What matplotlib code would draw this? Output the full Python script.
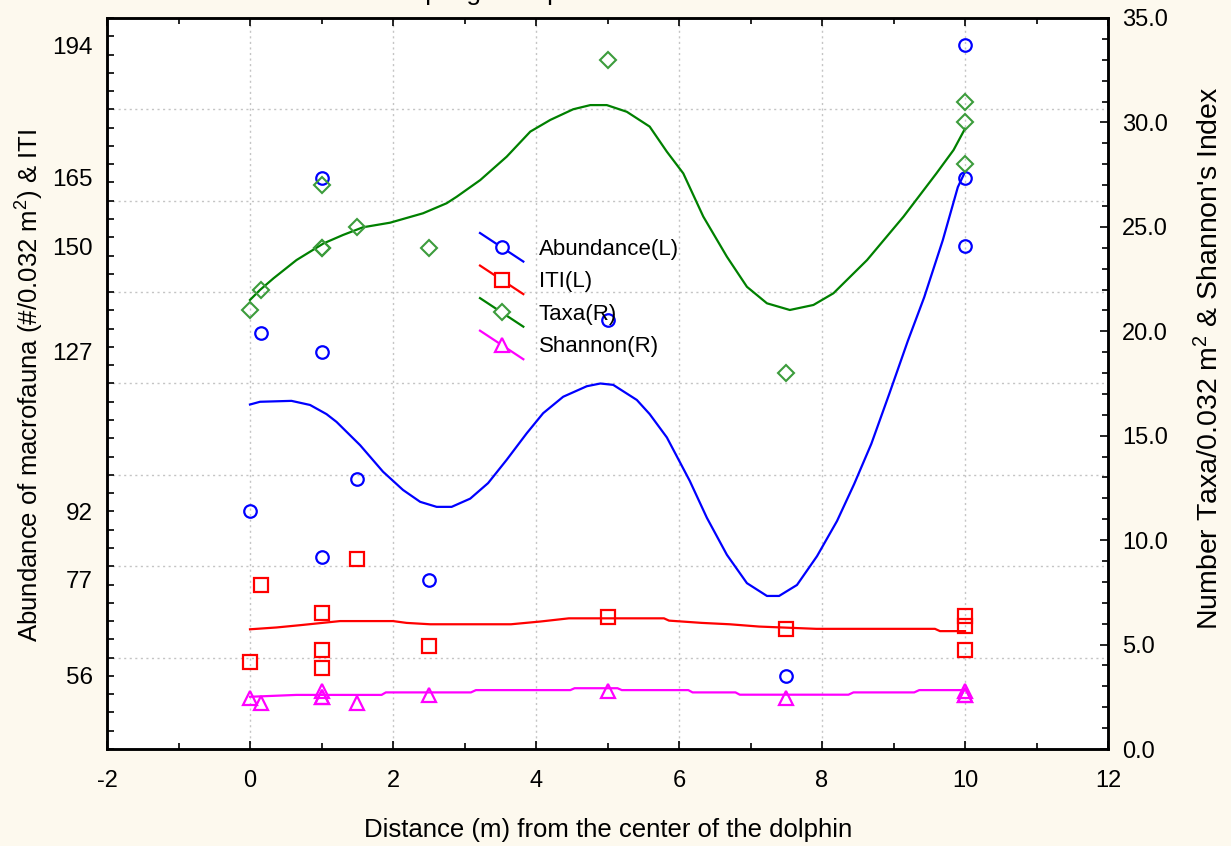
import matplotlib
matplotlib.use('Agg')
import matplotlib.pyplot as plt
import numpy as np
from matplotlib.lines import Line2D
from matplotlib.legend_handler import HandlerLine2D
from matplotlib.ticker import MultipleLocator, FormatStrFormatter

plt.rcParams['font.family'] = ['Liberation Sans', 'DejaVu Sans']
plt.rcParams['mathtext.fontset'] = 'custom'
plt.rcParams['mathtext.rm'] = 'Liberation Sans'
plt.rcParams['mathtext.it'] = 'Liberation Sans:italic'
plt.rcParams['axes.unicode_minus'] = False

# ---------------- data ----------------
sample_x = [0, 0.15, 1, 1, 1, 1.5, 2.5, 5, 7.5, 10, 10, 10]
abundance = [92, 131, 165, 127, 82, 99, 77, 134, 56, 194, 165, 150]
iti = [59, 76, 69.7, 61.7, 57.7, 81.6, 62.5, 68.8, 66.2, 69.1, 66.9, 61.7]
taxa = [21, 22, 27, 24, 24, 25, 24, 33, 18, 31, 30, 28]
shannon = [2.45, 2.2, 2.8, 2.5, 2.5, 2.2, 2.6, 2.8, 2.45, 2.8, 2.6, 2.6]

abund_curve_x = [0.0, 0.14, 0.58, 0.84, 1.07, 1.21, 1.54, 1.86, 2.14, 2.38, 2.61, 2.82,
                 3.08, 3.33, 3.59, 3.87, 4.10, 4.38, 4.71, 4.90, 5.08, 5.41, 5.59, 5.83,
                 6.15, 6.39, 6.67, 6.95, 7.23, 7.40, 7.65, 7.93, 8.21, 8.45, 8.69, 8.94,
                 9.20, 9.43, 9.69, 9.90, 10.0]
abund_curve_y = [115.4, 116.0, 116.2, 115.3, 113.3, 111.6, 106.5, 100.7, 96.7, 94.1, 93.0, 93.0,
                 94.8, 98.2, 103.3, 109.1, 113.5, 117.1, 119.4, 120.0, 119.7, 116.4, 113.3, 108.2,
                 98.7, 90.6, 82.5, 76.3, 73.5, 73.5, 75.9, 82.2, 89.9, 98.0, 106.8, 117.7,
                 129.3, 138.9, 151.4, 163.0, 166.3]

iti_curve_x = [0, 0.37, 0.70, 1.26, 2.0, 2.19, 2.52, 3.65, 4.06, 4.46, 5.79, 5.86,
               6.32, 6.71, 7.12, 7.92, 9.58, 9.65, 10.0]
iti_curve_y = [66.2, 66.6, 67.1, 68.0, 68.0, 67.6, 67.3, 67.3, 67.9, 68.6, 68.6, 68.1,
               67.6, 67.3, 66.8, 66.3, 66.3, 65.8, 65.8]

taxa_curve_x = [0.0, 0.14, 0.33, 0.65, 1.03, 1.30, 1.58, 1.96, 2.42, 2.75, 2.89, 3.22,
                3.59, 3.92, 4.20, 4.52, 4.76, 4.99, 5.27, 5.59, 5.83, 6.06, 6.34, 6.67,
                6.95, 7.23, 7.55, 7.88, 8.16, 8.63, 9.14, 9.60, 9.84, 10.0]
taxa_curve_y = [21.5, 21.98, 22.54, 23.41, 24.21, 24.61, 24.98, 25.20, 25.65, 26.13, 26.44, 27.24,
                28.36, 29.56, 30.12, 30.63, 30.83, 30.83, 30.51, 29.80, 28.60, 27.56, 25.49, 23.57,
                22.13, 21.34, 21.02, 21.26, 21.82, 23.41, 25.49, 27.56, 28.68, 29.7]

shannon_curve_x = [0.0, 0.65, 1.84, 1.90, 3.09, 3.16, 4.48, 4.54, 5.14, 5.20, 6.13, 6.19,
                   6.79, 6.85, 8.37, 8.44, 9.29, 9.36, 10.0]
shannon_curve_y = [2.50, 2.59, 2.59, 2.71, 2.71, 2.82, 2.82, 2.91, 2.91, 2.82, 2.82, 2.71,
                   2.71, 2.60, 2.60, 2.71, 2.71, 2.82, 2.82]

left_tick_values = [56, 77, 92, 127, 150, 165, 194]
left_grid_values = [60, 80, 100, 120, 140, 160, 180]
series_labels = ['Abundance(L)', 'ITI(L)', 'Taxa(R)', 'Shannon(R)']

# ---------------- styles ----------------
BG = '#fdf9ee'
BLUE = '#0000ff'
RED = '#ff0000'
GREEN = '#008000'
GREEN_MK = '#3c9c3c'
MAGENTA = '#ff00ff'
GRID = '#c4c4c4'

fig = plt.figure(figsize=(12.31, 8.46), dpi=100, facecolor=BG)
ax = fig.add_axes([107 / 1231, 1 - 749 / 846, 1001 / 1231, 731 / 846])
ax.set_facecolor('white')
ax2 = ax.twinx()

# left axis series
ax.plot(abund_curve_x, abund_curve_y, color=BLUE, lw=1.6, zorder=3)
ax.plot(iti_curve_x, iti_curve_y, color=RED, lw=1.6, zorder=3)
ax.plot(sample_x, abundance, ls='none', marker='o', ms=9, mew=1.6, mec=BLUE, mfc='none', zorder=4)
ax.plot(sample_x, iti, ls='none', marker='s', ms=10, mew=1.6, mec=RED, mfc='none', zorder=4)

# right axis series
ax2.plot(taxa_curve_x, taxa_curve_y, color=GREEN, lw=1.6, zorder=3)
ax2.plot(shannon_curve_x, shannon_curve_y, color=MAGENTA, lw=1.6, zorder=3)
ax2.plot(sample_x, taxa, ls='none', marker='D', ms=8.5, mew=1.5, mec=GREEN_MK, mfc='none', zorder=4)
ax2.plot(sample_x, shannon, ls='none', marker='^', ms=9.5, mew=1.6, mec=MAGENTA, mfc='none', zorder=4)

# axes limits and ticks
ax.set_xlim(-2, 12)
ax.set_ylim(40, 200)
ax2.set_ylim(0, 35)

ax.xaxis.set_major_locator(MultipleLocator(2))
ax.xaxis.set_minor_locator(MultipleLocator(1))
ax.tick_params(axis='x', which='both', direction='in', top=True, bottom=True,
               labelsize=17, pad=15)
ax.tick_params(axis='x', which='major', length=6, width=1.2)
ax.tick_params(axis='x', which='minor', length=4, width=1.2)

ax.yaxis.remove_overlapping_locs = False
ax.set_yticks(left_tick_values)
ax.set_yticklabels([str(v) for v in left_tick_values])
ax.yaxis.set_minor_locator(MultipleLocator(4))
ax.tick_params(axis='y', which='major', length=0, labelsize=17.5, pad=10, right=False)
ax.tick_params(axis='y', which='minor', direction='in', length=5, width=1.2, right=False)

ax2.yaxis.set_major_locator(MultipleLocator(5))
ax2.yaxis.set_minor_locator(MultipleLocator(1))
ax2.yaxis.set_major_formatter(FormatStrFormatter('%.1f'))
ax2.tick_params(axis='y', which='both', direction='in', labelsize=17, pad=10, left=False)
ax2.tick_params(axis='y', which='major', length=6, width=1.2)
ax2.tick_params(axis='y', which='minor', length=4, width=1.2)

# grid
ax.grid(axis='x', which='major', color=GRID, ls=(0, (1.5, 2.5)), lw=1.0)
for gv in left_grid_values:
    ax.axhline(gv, color=GRID, ls=(0, (1.5, 2.5)), lw=1.0, zorder=1)

for a in (ax, ax2):
    for sp in a.spines.values():
        sp.set_linewidth(1.8)
        sp.set_color('black')

# labels
ax.set_xlabel('Distance (m) from the center of the dolphin', fontsize=18.5)
ax.xaxis.set_label_coords(0.5005, -0.111)
ax.xaxis.label.set_va('center')

ax.set_ylabel('Abundance of macrofauna (#/0.032 m$^{2}$) & ITI', fontsize=18.5)
ax.yaxis.set_label_coords(-0.077, 0.497)
ax.yaxis.label.set_va('center')

ax2.set_ylabel("Number Taxa/0.032 m$^{2}$ & Shannon's Index", fontsize=20.5,
               rotation=90, rotation_mode='anchor')
ax2.yaxis.set_label_coords(1.102, 0.535)
ax2.yaxis.label.set_va('center')
ax2.yaxis.label.set_ha('center')

# title, cut off at the very top of the picture as in the reference
fig.text(466 / 1231, 1.0, 'Sampling Group', ha='center', va='baseline', fontsize=19)


# legend with diagonal line handles
class DiagonalHandler(HandlerLine2D):
    def create_artists(self, legend, orig_handle, xdescent, ydescent, width, height,
                       fontsize, trans):
        x0 = -xdescent
        y0 = -ydescent
        line = Line2D([x0, x0 + width], [y0 + height, y0],
                      color=orig_handle.get_color(), lw=orig_handle.get_linewidth())
        mk = Line2D([x0 + width / 2], [y0 + height / 2], ls='none',
                    marker=orig_handle.get_marker(),
                    markersize=orig_handle.get_markersize(),
                    markeredgecolor=orig_handle.get_markeredgecolor(),
                    markerfacecolor='white',
                    markeredgewidth=orig_handle.get_markeredgewidth())
        line.set_transform(trans)
        mk.set_transform(trans)
        return [line, mk]


handles = [
    Line2D([], [], color=BLUE, lw=1.6, marker='o', ms=9, mew=1.6, mec=BLUE),
    Line2D([], [], color=RED, lw=1.6, marker='s', ms=10, mew=1.6, mec=RED),
    Line2D([], [], color=GREEN, lw=1.6, marker='D', ms=8.5, mew=1.5, mec=GREEN_MK),
    Line2D([], [], color=MAGENTA, lw=1.6, marker='^', ms=9.5, mew=1.6, mec=MAGENTA),
]
leg = ax2.legend(handles, series_labels, handler_map={Line2D: DiagonalHandler()},
                 loc='upper left', bbox_to_anchor=((480 - 107) / 1001, 1 - (233 - 18) / 731),
                 frameon=False, fontsize=16, borderpad=0, borderaxespad=0,
                 handlelength=1.95, handleheight=1.6, labelspacing=0.18, handletextpad=0.7)

fig.savefig('out.png', dpi=100, facecolor=BG)
